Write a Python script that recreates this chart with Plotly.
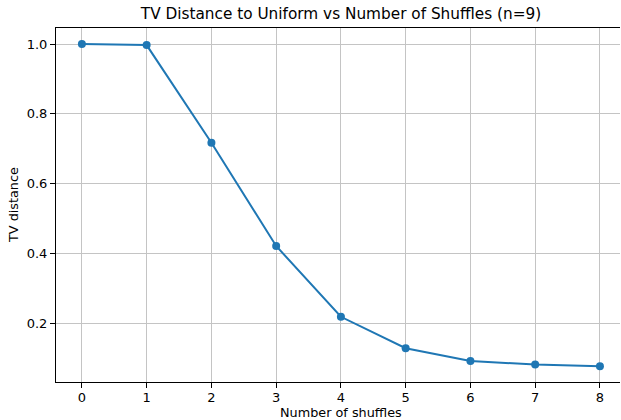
import plotly.graph_objects as go

shuffles = [0, 1, 2, 3, 4, 5, 6, 7, 8]
tv_distance = [1.0, 0.997, 0.717, 0.421, 0.218, 0.128, 0.091, 0.081, 0.076]
y_ticks = [0.2, 0.4, 0.6, 0.8, 1.0]
y_tick_labels = ["0.2", "0.4", "0.6", "0.8", "1.0"]

FONT = "DejaVu Sans"
W, H = 621, 420
L, R, T, B = 56, 1, 28, 38
GRID = "#c4c4c4"

fig = go.Figure()
fig.add_trace(go.Scatter(
    x=shuffles, y=tv_distance, mode="lines+markers",
    line=dict(color="#1f77b4", width=2),
    marker=dict(color="#1f77b4", size=8),
    showlegend=False,
))

fig.update_layout(
    width=W, height=H,
    margin=dict(l=L, r=R, t=T, b=B, pad=0, autoexpand=False),
    paper_bgcolor="white", plot_bgcolor="white",
    font=dict(family=FONT, size=13, color="black"),
    title=dict(text="TV Distance to Uniform vs Number of Shuffles (n=9)",
               x=341/W, xanchor="center", y=1-14/H, yanchor="middle",
               font=dict(family=FONT, size=15.3, color="black")),
    annotations=[
        dict(text="Number of shuffles", xref="paper", yref="paper",
             x=(341 - L)/(W - L - R), y=-(413 - (H - B))/(H - T - B),
             xanchor="center", yanchor="middle", showarrow=False,
             font=dict(family=FONT, size=12.8, color="black")),
        dict(text="TV distance", xref="paper", yref="paper",
             x=-(L - 13)/(W - L - R), y=0.5, textangle=-90,
             xanchor="center", yanchor="middle", showarrow=False,
             font=dict(family=FONT, size=12.8, color="black")),
    ],
)
fig.update_xaxes(
    range=[-0.4, 8.31], tickmode="array", tickvals=shuffles,
    ticktext=[str(s) for s in shuffles], automargin=False,
    tickfont=dict(size=13),
    showgrid=True, gridcolor=GRID, gridwidth=1,
    showline=True, linecolor="black", linewidth=1, mirror=True,
    ticks="outside", ticklen=5, tickcolor="black", tickwidth=1,
    ticklabelstandoff=-2,
    zeroline=False,
)
fig.update_yaxes(
    range=[0.031, 1.046], tickmode="array", tickvals=y_ticks, ticktext=y_tick_labels,
    automargin=False, tickfont=dict(size=13),
    showgrid=True, gridcolor=GRID, gridwidth=1,
    showline=True, linecolor="black", linewidth=1, mirror=False,
    ticks="outside", ticklen=5, tickcolor="black", tickwidth=1,
    zeroline=False,
)

fig.write_html(
    "out.html",
    config={"displayModeBar": False},
    post_script="document.body.style.margin='0px';document.body.style.overflow='hidden';",
)
